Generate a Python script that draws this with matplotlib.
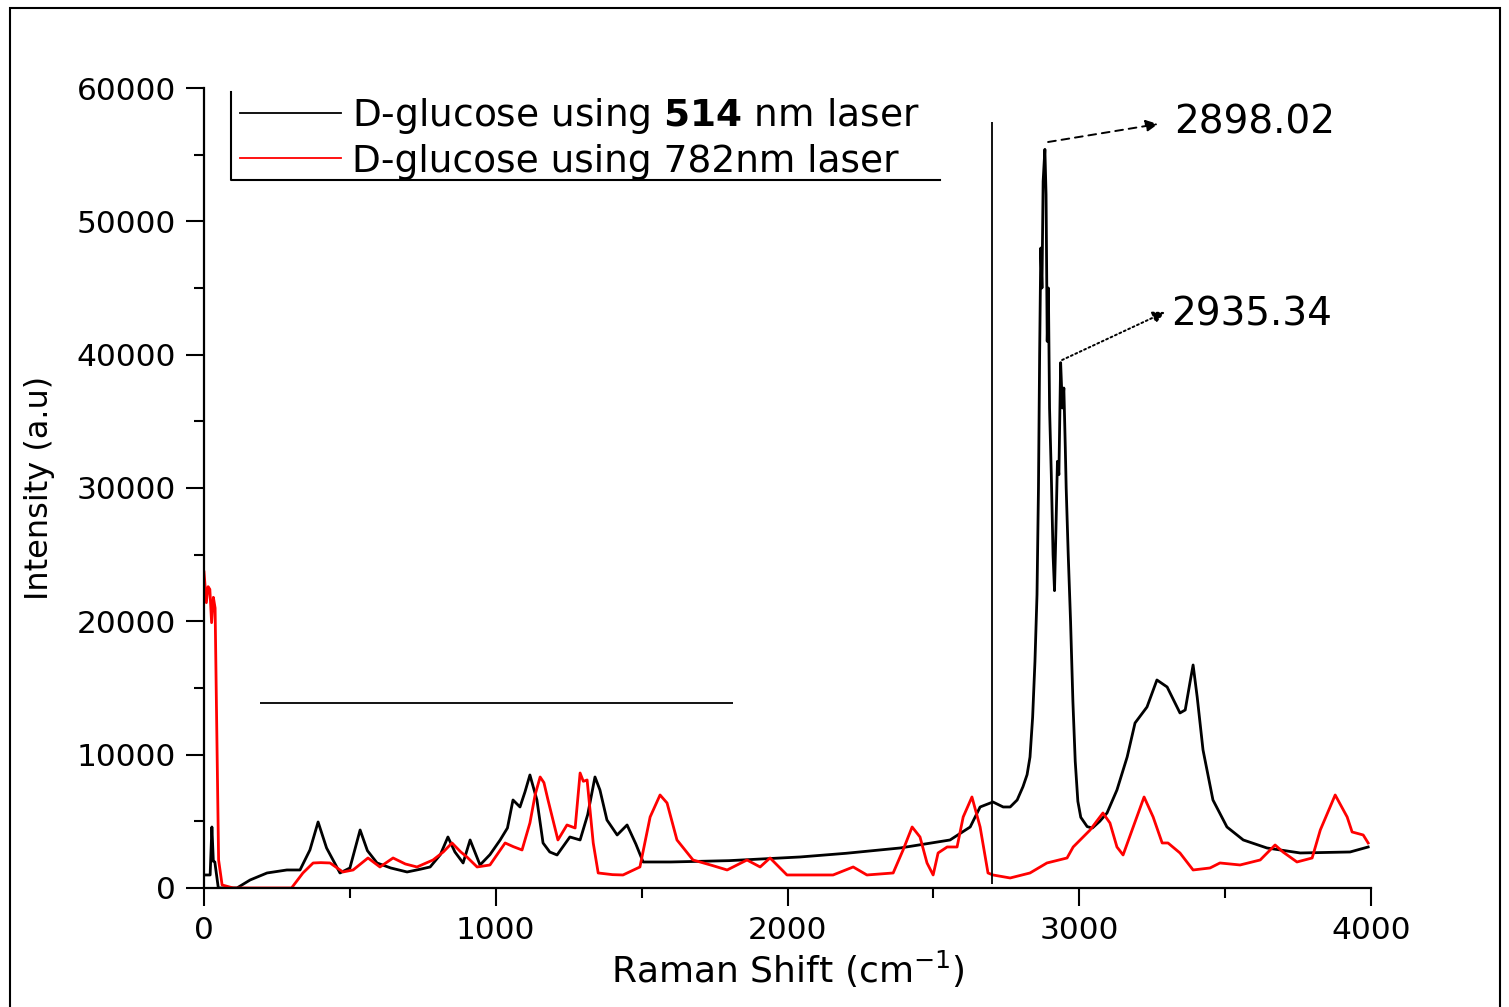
import matplotlib
matplotlib.use("Agg")
import matplotlib.pyplot as plt
from matplotlib.ticker import MultipleLocator
from matplotlib.patches import Rectangle

# D-glucose, 514 nm laser (black)
black_x = [0, 21, 27, 32, 37, 49, 113, 158, 216, 284, 329, 363, 391, 420, 466, 500, 535, 560,
           593, 640, 696, 740, 775, 810, 836, 860, 888, 912, 946, 980, 1015, 1040, 1059, 1083,
           1100, 1117, 1141, 1162, 1185, 1210, 1254, 1289, 1315, 1340, 1357, 1381, 1416, 1450,
           1480, 1505, 1600, 1800, 2043, 2200, 2386, 2557, 2626, 2660, 2704, 2739, 2763, 2787,
           2807, 2821, 2831, 2840, 2848, 2855, 2860, 2864, 2868, 2872, 2876, 2882, 2886, 2890,
           2894, 2898, 2904, 2910, 2915, 2920, 2925, 2930, 2936, 2942, 2947, 2952, 2955, 2962,
           2970, 2978, 2986, 2995, 3005, 3027, 3045, 3070, 3095, 3129, 3164, 3191, 3232, 3266,
           3301, 3345, 3363, 3380, 3390, 3404, 3424, 3458, 3506, 3562, 3643, 3757, 3928, 3990]
black_y = [975, 975, 4575, 2000, 1950, 0, 0, 600, 1125, 1350, 1350, 2850, 4950, 3000, 1125, 1500,
           4350, 2800, 1875, 1500, 1200, 1400, 1575, 2500, 3825, 2700, 1875, 3600, 1725, 2500,
           3600, 4500, 6600, 6075, 7200, 8475, 6600, 3375, 2700, 2475, 3825, 3600, 5500, 8325,
           7350, 5100, 3975, 4725, 3300, 1950, 1950, 2050, 2325, 2600, 3000, 3600, 4575, 6075,
           6450, 6075, 6075, 6600, 7600, 8500, 9825, 12800, 17000, 22000, 30000, 40000, 48000,
           45000, 53000, 55400, 52000, 41000, 45000, 36000, 31000, 25000, 22300, 27000, 32000,
           31000, 39400, 36000, 37500, 33000, 30000, 25000, 20000, 14000, 9500, 6500, 5300, 4600,
           4500, 5000, 5625, 7350, 9825, 12375, 13575, 15600, 15075, 13125, 13350, 15500, 16725,
           14325, 10350, 6600, 4575, 3600, 3000, 2625, 2700, 3075]

# D-glucose, 782 nm laser (red)
red_x = [0, 8, 14, 20, 26, 32, 38, 42, 50, 62, 100, 200, 300, 339, 374, 400, 432, 476, 511, 562,
         603, 648, 690, 730, 785, 820, 850, 880, 901, 936, 980, 1032, 1060, 1090, 1117, 1135,
         1152, 1165, 1179, 1213, 1244, 1272, 1289, 1300, 1313, 1334, 1351, 1400, 1436, 1494,
         1529, 1563, 1587, 1621, 1676, 1740, 1793, 1861, 1906, 1940, 1998, 2100, 2156, 2225,
         2272, 2362, 2396, 2427, 2454, 2478, 2499, 2516, 2547, 2581, 2602, 2632, 2660, 2687,
         2704, 2763, 2831, 2889, 2958, 2979, 3037, 3081, 3105, 3129, 3150, 3181, 3222, 3253,
         3284, 3304, 3345, 3390, 3448, 3482, 3551, 3620, 3671, 3698, 3746, 3798, 3826, 3877,
         3918, 3935, 3973, 3990]
red_y = [23700, 21400, 22600, 22400, 19900, 21800, 21000, 14600, 2100, 225, 0, 0, 0, 1125, 1875,
         1900, 1875, 1200, 1350, 2250, 1575, 2250, 1800, 1575, 2100, 2700, 3375, 2700, 2325, 1575,
         1725, 3375, 3100, 2850, 4875, 7000, 8325, 7900, 6600, 3600, 4725, 4500, 8625, 8000,
         8100, 3375, 1125, 1000, 975, 1575, 5325, 6975, 6375, 3600, 2100, 1700, 1350, 2100,
         1575, 2250, 975, 975, 975, 1575, 975, 1125, 2850, 4575, 3825, 1875, 975, 2625, 3075,
         3075, 5325, 6825, 4575, 1125, 975, 750, 1125, 1875, 2250, 3075, 4350, 5625, 4875,
         3075, 2475, 4350, 6825, 5325, 3375, 3375, 2625, 1350, 1500, 1875, 1725, 2100, 3225,
         2700, 1950, 2250, 4350, 6975, 5325, 4200, 3975, 3375]

labels = ["D-glucose using $\\mathbf{514}$ nm laser", "D-glucose using 782nm laser"]

# reference lines drawn in the original
vline_x, vline_y0, vline_y1 = 2700, 300, 57450
hline_y, hline_x0, hline_x1 = 13875, 192, 1813

# peak annotations
peak_labels = ["2898.02", "2935.34"]
arrow_from = [(2893, 55950), (2941, 39600)]
arrow_to = [(3270, 57300), (3294, 43200)]
text_pos = [(3325, 57450), (3315, 43050)]
arrow_ls = [(0, (4, 3)), (0, (1, 1.5))]

fig = plt.figure(figsize=(15.09, 10.07), dpi=100)
ax = fig.add_axes([0.1352, 0.1182, 0.7734, 0.7944])

ax.plot(black_x, black_y, color="black", lw=2.0, label=labels[0])
ax.plot(red_x, red_y, color="red", lw=2.0, label=labels[1])

ax.vlines(vline_x, vline_y0, vline_y1, color="black", lw=1.3)
ax.hlines(hline_y, hline_x0, hline_x1, color="black", lw=1.3)

for lab, a0, a1, tp, ls in zip(peak_labels, arrow_from, arrow_to, text_pos, arrow_ls):
    ax.annotate("", xy=a1, xytext=a0,
                arrowprops=dict(arrowstyle="-|>", color="black", lw=1.4, linestyle=ls,
                                mutation_scale=18, shrinkA=0, shrinkB=0))
    ax.text(tp[0], tp[1], lab, fontsize=28, va="center", ha="left")

ax.set_xlim(0, 4000)
ax.set_ylim(0, 60000)
ax.xaxis.set_major_locator(MultipleLocator(1000))
ax.xaxis.set_minor_locator(MultipleLocator(500))
ax.yaxis.set_major_locator(MultipleLocator(10000))
ax.yaxis.set_minor_locator(MultipleLocator(5000))

for s in ["top", "right"]:
    ax.spines[s].set_visible(False)
for s in ["left", "bottom"]:
    ax.spines[s].set_linewidth(1.6)

ax.tick_params(which="major", direction="out", length=13, width=1.5, labelsize=22.5, pad=7)
ax.tick_params(which="minor", direction="out", length=7, width=1.5)

ax.set_xlabel("Raman Shift (cm$^{-1}$)", fontsize=26, labelpad=3)
ax.set_ylabel("Intensity (a.u)", fontsize=23, labelpad=16)

leg = ax.legend(loc="upper left", bbox_to_anchor=(0.0308, 0.990), frameon=False, fontsize=27,
                handlelength=2.7, handletextpad=0.3, labelspacing=0.2, borderpad=0,
                borderaxespad=0)
for h in leg.legend_handles:
    h.set_linewidth(1.3)

# L-shaped legend border
ax.plot([0.0231, 0.0231, 0.6307], [0.995, 0.885, 0.885], transform=ax.transAxes,
        color="black", lw=1.5, clip_on=False)

# outer frame
fig.add_artist(Rectangle((10 / 1509, -0.05), 1490 / 1509, 0.992 + 0.05,
                         transform=fig.transFigure, fill=False, lw=1.5, color="black"))

fig.savefig("out.png", dpi=100)
